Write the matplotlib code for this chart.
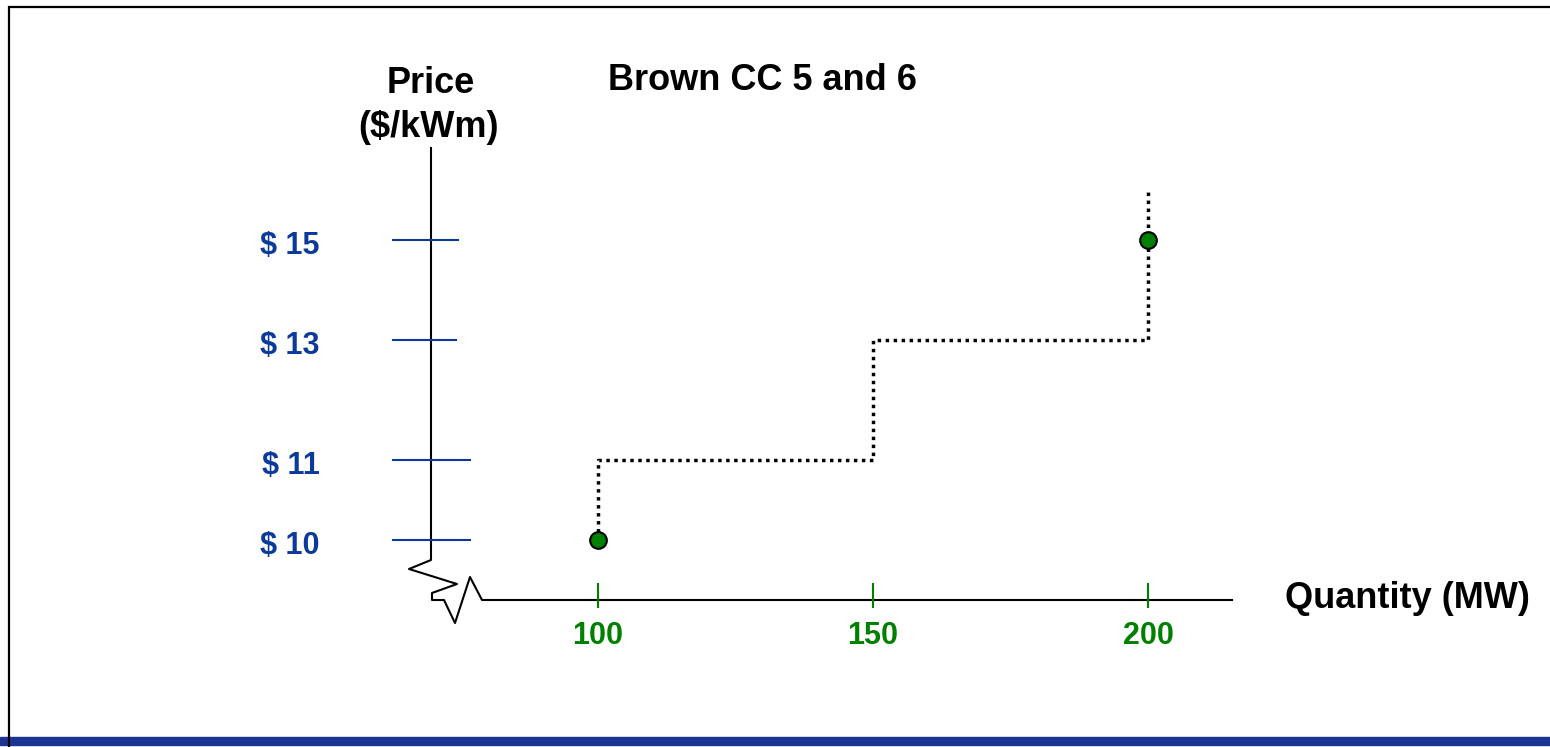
import numpy as np
import matplotlib
matplotlib.use('Agg')
import matplotlib.pyplot as plt
import matplotlib.transforms as mtransforms
from matplotlib.patches import Rectangle

plt.rcParams['font.family'] = ['Liberation Sans', 'DejaVu Sans']
plt.rcParams['font.weight'] = 'bold'

# supply curve (step) and bid points
step_qty = [100, 100, 150, 150, 200, 200]
step_price = [10, 11, 11, 13, 13, 16]
point_qty = [100, 200]
point_price = [10, 15]

price_ticks = [10, 11, 13, 15]
price_labels = ['$ 10', '$ 11', '$ 13', '$ 15']
qty_ticks = [100, 150, 200]
qty_labels = ['100', '150', '200']

W, H = 1550, 747
BLUE = '#0b3a9a'
GREEN = '#008000'

fig = plt.figure(figsize=(W / 100, H / 100), dpi=100)
ax = fig.add_axes([0, 0, 1, 1])

# the price axis is not to scale, so use a piecewise scale (pixels from bottom)
knot_p = [5, 10, 11, 13, 15, 20]
knot_h = [H - 940, H - 540, H - 460, H - 340, H - 240, H + 10]

def fwd(p):
    return np.interp(p, knot_p, knot_h)

def inv(h):
    return np.interp(h, knot_h, knot_p)

ax.set_yscale('function', functions=(fwd, inv))
ax.set_ylim(inv(0), inv(H))
ax.set_xlim(100 - 598 / 5.5, 100 + (W - 598) / 5.5)
ax.axis('off')

# pixel coords, origin top-left
px = mtransforms.Affine2D().scale(1 / W, -1 / H).translate(0, 1) + fig.transFigure
px_x_data_y = mtransforms.blended_transform_factory(px, ax.transData)
data_x_px_y = mtransforms.blended_transform_factory(ax.transData, px)
label_trans = mtransforms.offset_copy(px_x_data_y, fig=fig, y=-6, units='dots')

# slide frame and bottom bar
ax.add_patch(Rectangle((0, 737), W, 8, transform=px, color='#1c3493',
                       clip_on=False, zorder=1))
ax.plot([8.5, 8.5, W], [H, 6.5, 6.5], transform=px, color='black', lw=1.6,
        clip_on=False, zorder=2, solid_joinstyle='miter')

# axes with break
axis_x = [431, 431, 409, 457, 432, 432, 444, 455, 470, 482, 1232]
axis_y = [148, 560, 569, 584, 593, 600, 600, 623, 577, 600, 600]
ax.plot(axis_x, axis_y, transform=px, color='black', lw=1.5, clip_on=False,
        zorder=2)

# price ticks
tick_right = [470, 470, 456, 458]
for p, lab, xr in zip(price_ticks, price_labels, tick_right):
    ax.plot([393, xr], [p, p], transform=px_x_data_y, color=BLUE, lw=1.5,
            clip_on=False, zorder=3)
    ax.text(320, p, lab, transform=label_trans, ha='right', va='center',
            fontsize=22, color=BLUE, fontweight='bold')

# quantity ticks
for q, lab in zip(qty_ticks, qty_labels):
    ax.plot([q, q], [584, 607], transform=data_x_px_y, color=GREEN, lw=1.5,
            clip_on=False, zorder=3)
    ax.text(q, 644, lab, transform=data_x_px_y, ha='center', va='baseline',
            fontsize=22, color=GREEN, fontweight='bold')

# supply curve
ax.plot(step_qty, step_price, color='black', lw=2.5, linestyle=(0, (1, 1.3)),
        clip_on=False, zorder=4)
ax.plot(point_qty, point_price, 'o', ms=12, mfc=GREEN, mec='black', mew=1.5,
        clip_on=False, zorder=5)

# labels
ax.text(608, 90, 'Brown CC 5 and 6', transform=px, ha='left', va='baseline',
        fontsize=26, fontweight='bold')
ax.text(431, 93, 'Price', transform=px, ha='center', va='baseline',
        fontsize=26, fontweight='bold')
ax.text(429, 137, '($/kWm)', transform=px, ha='center', va='baseline',
        fontsize=26, fontweight='bold')
ax.text(1285, 608, 'Quantity (MW)', transform=px, ha='left', va='baseline',
        fontsize=26, fontweight='bold')

fig.savefig('out.png', dpi=100)
